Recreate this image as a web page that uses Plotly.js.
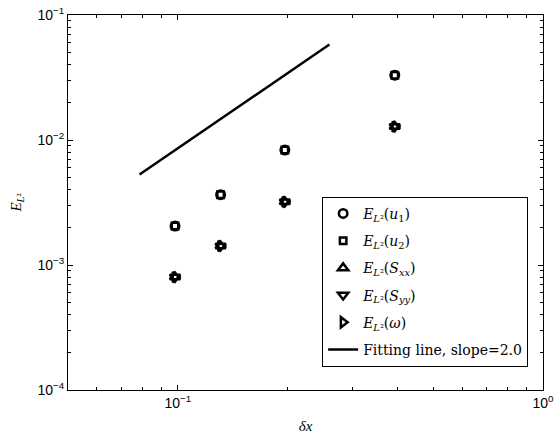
<!DOCTYPE html>
<html>
<head>
<meta charset="utf-8">
<script src="https://cdn.plot.ly/plotly-3.0.1.min.js"></script>
<style>html,body{margin:0;padding:0;background:#fff;}#chart{width:555px;height:441px;}</style>
</head>
<body>
<div id="chart"></div>
<script>
const dx = [0.0982, 0.1309, 0.1963, 0.3927];
const errU1 = [2.05e-3, 3.65e-3, 8.3e-3, 3.3e-2];
const errU2 = [2.05e-3, 3.65e-3, 8.3e-3, 3.3e-2];
const errSxx = [8.0e-4, 1.42e-3, 3.2e-3, 1.28e-2];
const errSyy = [8.0e-4, 1.42e-3, 3.2e-3, 1.28e-2];
const errOmega = [8.0e-4, 1.42e-3, 3.2e-3, 1.28e-2];
const fitX = [0.0785, 0.26];
const fitY = [5.3e-3, 5.8e-2];
const xTickVals = [0.1, 1];
const xTickText = ['10<sup>−1</sup>', '10<sup>0</sup>'];
const yTickVals = [1e-4, 1e-3, 1e-2, 1e-1];
const yTickText = ['10<sup>−4</sup>', '10<sup>−3</sup>', '10<sup>−2</sup>', '10<sup>−1</sup>'];
const xMinor = [0.05,0.06,0.07,0.08,0.09,0.2,0.3,0.4,0.5,0.6,0.7,0.8,0.9];
const yMinor = [];
[1e-4,1e-3,1e-2].forEach(d=>{for(let k=2;k<=9;k++) yMinor.push(d*k);});

const names = [
  '<i>E</i><sub><i>L</i>²</sub>(<i>u</i><sub>1</sub>)',
  '<i>E</i><sub><i>L</i>²</sub>(<i>u</i><sub>2</sub>)',
  '<i>E</i><sub><i>L</i>²</sub>(<i>S</i><sub><i>xx</i></sub>)',
  '<i>E</i><sub><i>L</i>²</sub>(<i>S</i><sub><i>yy</i></sub>)',
  '<i>E</i><sub><i>L</i>²</sub>(<i>ω</i>)',
  'Fitting line, slope=2.0'
];
const symbols = ['circle-open','square-open','triangle-up-open','triangle-down-open','triangle-right-open'];
const sizes = [8.5, 6.5, 9, 9, 9];
const series = [errU1, errU2, errSxx, errSyy, errOmega];

const traces = series.map((ys,i)=>({
  x: dx, y: ys, type:'scatter', mode:'markers', name:names[i],
  legendgroup:'g'+i,
  marker:{symbol:symbols[i], size:sizes[i], color:'#000', line:{color:'#000', width:2.5}}
}));
traces.push({x:fitX, y:fitY, type:'scatter', mode:'lines', name:names[5], legendgroup:'g5',
  line:{color:'#000', width:2.5}});

const axisCommon = {
  type:'log', showgrid:false, zeroline:false, showline:true, linecolor:'#000', linewidth:1,
  mirror:'ticks', ticks:'inside', ticklen:5, tickcolor:'#000', tickwidth:1,
  tickfont:{family:'Liberation Sans, Arial, sans-serif', size:14, color:'#000'},
  tickmode:'array'
};

const layout = {
  width:555, height:441,
  margin:{l:68, r:12, t:15, b:51},
  paper_bgcolor:'#fff', plot_bgcolor:'#fff',
  showlegend:true,
  legend:{x:0.535, y:0.515, xanchor:'left', yanchor:'top',
    bgcolor:'#fff', bordercolor:'#000', borderwidth:1,
    traceorder:'grouped', tracegroupgap:6,
    font:{family:'DejaVu Serif, Liberation Serif, serif', size:14, color:'#000'}},
  xaxis:Object.assign({}, axisCommon, {
    range:[Math.log10(0.05), 0],
    tickvals:xTickVals, ticktext:xTickText,
    minor:{tickmode:'array', tickvals:xMinor, ticks:'inside', ticklen:3, tickcolor:'#000', showgrid:false},
    title:{text:'<i>δx</i>', font:{family:'Liberation Serif, DejaVu Serif, serif', size:15, color:'#000'}, standoff:10}
  }),
  yaxis:Object.assign({}, axisCommon, {
    range:[-4, -1],
    tickvals:yTickVals, ticktext:yTickText,
    minor:{tickmode:'array', tickvals:yMinor, ticks:'inside', ticklen:3, tickcolor:'#000', showgrid:false},
    title:{text:'<i>E</i><sub><i>L</i>²</sub>', font:{family:'Liberation Serif, DejaVu Serif, serif', size:15, color:'#000'}, standoff:12}
  })
};

Plotly.newPlot('chart', traces, layout, {displayModeBar:false, staticPlot:true});
</script>
</body>
</html>
